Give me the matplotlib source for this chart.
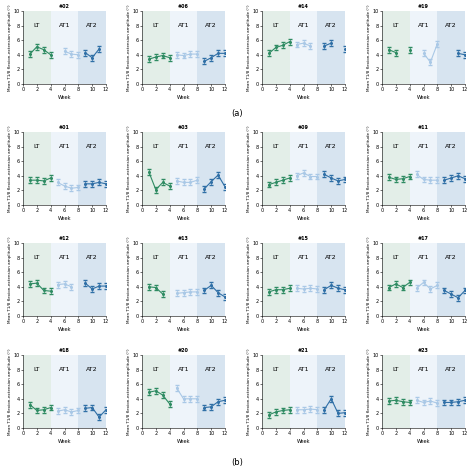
import matplotlib
matplotlib.use("Agg")
import matplotlib.pyplot as plt
import numpy as np
nan = np.nan

ids = ["#02","#06","#14","#19","#01","#03","#09","#11","#12","#13","#15","#17","#18","#20","#21","#23"]
lt = [[4.1,5.1,4.7,4.0],[3.4,3.7,3.9,3.6],[4.2,5.0,5.3,5.8],[4.7,4.3,nan,4.6],
      [3.4,3.4,3.3,3.7],[4.5,2.1,3.1,2.6],[2.8,3.1,3.4,3.7],[3.8,3.5,3.6,3.9],
      [4.4,4.5,3.5,3.4],[4.0,3.9,3.0,nan],[3.3,3.6,3.6,3.8],[3.9,4.4,3.9,4.6],
      [3.2,2.4,2.5,2.8],[4.9,5.1,4.5,3.3],[1.8,2.2,2.4,2.5],[3.7,3.8,3.6,3.5]]
at1 = [[nan,4.5,4.1,4.0],[4.0,3.9,4.1,4.1],[5.4,5.6,5.2,nan],[nan,4.2,3.0,5.5],
       [3.1,2.6,2.3,2.4],[3.3,3.1,3.1,3.4],[4.0,4.4,3.9,3.9],[4.2,3.5,3.4,3.4],
       [4.3,4.4,4.0,nan],[3.1,3.2,3.3,3.3],[3.8,3.7,3.8,3.7],[3.8,4.6,3.7,4.2],
       [2.3,2.5,2.2,2.4],[5.5,4.0,4.0,4.0],[2.5,2.5,2.6,2.5],[3.8,3.5,3.7,3.4]]
at2 = [[4.3,3.6,4.8,nan],[3.1,3.6,4.2,4.2],[5.2,5.6,nan,4.8],[nan,nan,4.2,4.0],
       [2.9,2.9,3.1,2.9],[2.2,3.2,4.1,2.5],[4.2,3.7,3.3,3.5],[3.4,3.7,4.0,3.6],
       [4.5,3.7,4.1,4.1],[3.5,4.2,3.2,2.6],[3.6,4.2,3.8,3.6],[3.5,3.0,2.5,3.5],
       [2.7,2.8,1.5,2.5],[2.8,2.9,3.6,3.8],[2.5,4.0,2.0,2.1],[3.5,3.5,3.6,3.8]]
err = 0.4

W, H = 474, 473
fig = plt.figure(figsize=(W/100, H/100), dpi=100)
lefts = [23, 142, 262, 382]
tops = [11, 132, 243, 355]
aw, ah = 83, 73
phases = [(0,4,"#e3eee8","LT"),(4,8,"#eef4fa","AT1"),(8,12,"#d7e4f0","AT2")]
cols = ["#2e8b62","#a9c8e6","#2f6fa6"]
fs = 3.5
for i, pid in enumerate(ids):
    r, c = divmod(i, 4)
    ax = fig.add_axes([lefts[c]/W, 1-(tops[r]+ah)/H, aw/W, ah/H])
    for x0,x1,col,lab in phases:
        ax.axvspan(x0, x1, color=col, lw=0)
        ax.text((x0+x1)/2, 8, lab, ha="center", va="center", fontsize=4.5)
    for j, vals in enumerate([lt[i], at1[i], at2[i]]):
        wk = np.arange(1,5) + 4*j
        ax.errorbar(wk, vals, yerr=err, color=cols[j], lw=0.8, marker="o", ms=1.2,
                    capsize=1.2, elinewidth=0.5)
    ax.set_xlim(0,12); ax.set_ylim(0,10)
    ax.set_xticks(range(0,13,2)); ax.set_yticks(range(0,11,2))
    ax.tick_params(labelsize=fs, length=1.5, width=0.4, pad=1)
    for s in ["top","right"]: ax.spines[s].set_visible(False)
    for s in ["left","bottom"]: ax.spines[s].set_linewidth(0.4)
    ax.set_title(pid, fontsize=fs, fontweight="bold", pad=2)
    ax.set_xlabel("Week", fontsize=fs, labelpad=2)
    ax.set_ylabel("Mean T1/8 flexion-extension amplitude (°)", fontsize=3, labelpad=1)
fig.text(0.5, 1-113/H, "(a)", ha="center", va="center", fontsize=6)
fig.text(0.5, 1-462/H, "(b)", ha="center", va="center", fontsize=6)
fig.savefig("out.png", dpi=100)
